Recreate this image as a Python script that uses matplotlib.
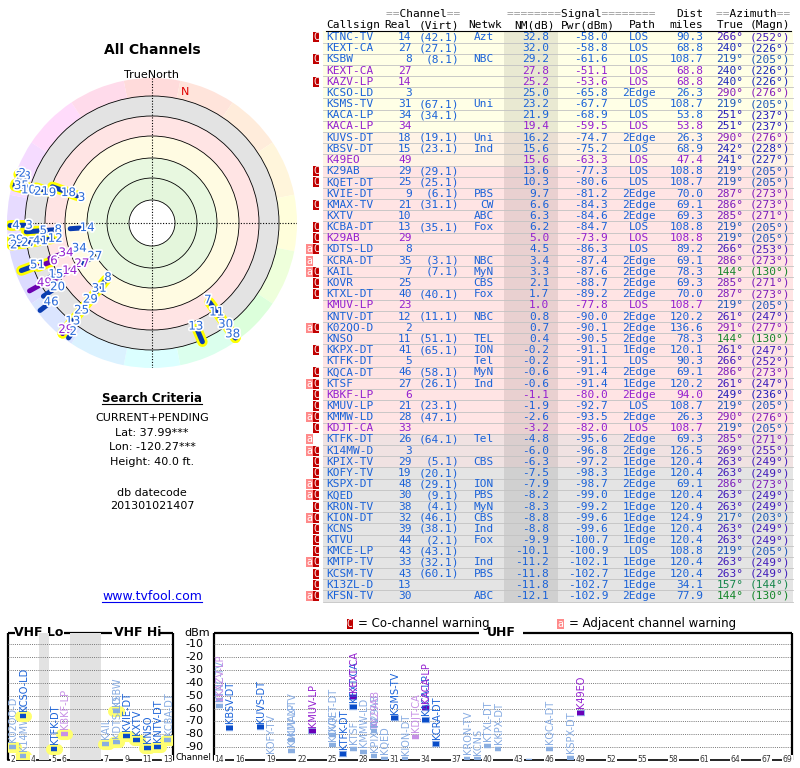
import numpy as np
import matplotlib
matplotlib.use('Agg')
import matplotlib.pyplot as plt
from matplotlib.patches import Rectangle, Wedge, Circle
import matplotlib.patheffects as pe
import matplotlib.transforms as mtransforms
import colorsys

# ---------------- data ----------------
callsign = ["KTNC-TV","KEXT-CA","KSBW","KEXT-CA","KAZV-LP","KCSO-LD","KSMS-TV","KACA-LP","KACA-LP","KUVS-DT",
            "KBSV-DT","K49EO","K29AB","KQET-DT","KVIE-DT","KMAX-TV","KXTV","KCBA-DT","K29AB","KDTS-LD",
            "KCRA-DT","KAIL","KOVR","KTXL-DT","KMUV-LP","KNTV-DT","K02QO-D","KNSO","KKPX-DT","KTFK-DT",
            "KQCA-DT","KTSF","KBKF-LP","KMUV-LP","KMMW-LD","KDJT-CA","KTFK-DT","K14MW-D","KPIX-TV","KOFY-TV",
            "KSPX-DT","KQED","KRON-TV","KION-DT","KCNS","KTVU","KMCE-LP","KMTP-TV","KCSM-TV","K13ZL-D","KFSN-TV"]
real_ch = [14,27,8,27,14,3,31,34,34,18,15,49,29,25,9,21,10,13,29,8,35,7,25,40,23,12,2,11,41,5,
           46,27,6,21,28,33,26,3,29,19,48,30,38,32,39,44,43,33,43,13,30]
virt_ch = ["42.1","27.1","8.1","","","","67.1","34.1","","19.1","23.1","","29.1","25.1","6.1","31.1","",
           "35.1","","","3.1","7.1","","40.1","","11.1","","51.1","65.1","","58.1","26.1","","23.1","47.1",
           "","64.1","","5.1","20.1","29.1","9.1","4.1","46.1","38.1","2.1","43.1","32.1","60.1","",""]
network = ["Azt","","NBC","","","","Uni","","","Uni","Ind","","","","PBS","CW","ABC","Fox","","","NBC",
           "MyN","CBS","Fox","","NBC","","TEL","ION","Tel","MyN","Ind","","","","","Tel","","CBS","","ION",
           "PBS","MyN","CBS","Ind","Fox","","Ind","PBS","","ABC"]
nm_db = [32.8,32.0,29.2,27.8,25.2,25.0,23.2,21.9,19.4,16.2,15.6,15.6,13.6,10.3,9.7,6.6,6.3,6.2,5.0,4.5,
         3.4,3.3,2.1,1.7,1.0,0.8,0.7,0.4,-0.2,-0.2,-0.6,-0.6,-1.1,-1.9,-2.6,-3.2,-4.8,-6.0,-6.3,-7.5,
         -7.9,-8.2,-8.3,-8.8,-8.8,-9.9,-10.1,-11.2,-11.8,-11.8,-12.1]
pwr_dbm = [-58.0,-58.8,-61.6,-51.1,-53.6,-65.8,-67.7,-68.9,-59.5,-74.7,-75.2,-63.3,-77.3,-80.6,-81.2,
           -84.3,-84.6,-84.7,-73.9,-86.3,-87.4,-87.6,-88.7,-89.2,-77.8,-90.0,-90.1,-90.5,-91.1,-91.1,
           -91.4,-91.4,-80.0,-92.7,-93.5,-82.0,-95.6,-96.8,-97.2,-98.3,-98.7,-99.0,-99.2,-99.6,-99.6,
           -100.7,-100.9,-102.1,-102.7,-102.7,-102.9]
path = ["LOS","LOS","LOS","LOS","LOS","2Edge","LOS","LOS","LOS","2Edge","LOS","LOS","LOS","LOS","2Edge",
        "2Edge","2Edge","LOS","LOS","LOS","2Edge","2Edge","2Edge","2Edge","LOS","2Edge","2Edge","2Edge",
        "1Edge","LOS","2Edge","1Edge","2Edge","LOS","2Edge","LOS","2Edge","2Edge","1Edge","1Edge","2Edge",
        "1Edge","1Edge","1Edge","1Edge","1Edge","LOS","1Edge","1Edge","1Edge","2Edge"]
dist_mi = [90.3,68.8,108.7,68.8,68.8,26.3,108.7,53.8,53.8,26.3,68.9,47.4,108.8,108.7,70.0,69.1,69.3,
           108.8,108.8,89.2,69.1,78.3,69.3,70.0,108.7,120.2,136.6,78.3,120.1,90.3,69.1,120.2,94.0,108.7,
           26.3,108.7,69.3,126.5,120.4,120.4,69.1,120.4,120.4,124.9,120.4,120.4,108.8,120.4,120.4,34.1,77.9]
az_true = [266,240,219,240,240,290,219,251,251,290,242,241,219,219,287,286,285,219,219,266,286,144,285,
           287,219,261,291,144,261,266,286,261,249,219,290,219,285,269,263,263,286,263,263,217,263,263,
           219,263,263,157,144]
az_magn = [252,226,205,226,226,276,205,237,237,276,228,227,205,205,273,273,271,205,205,253,273,130,271,
           273,205,247,277,130,247,252,273,247,236,205,276,205,271,255,249,249,273,249,249,203,249,249,
           205,249,249,144,130]
pending = [0,0,0,1,1,0,0,0,1,0,0,1,0,0,0,0,0,0,1,0,0,0,0,0,1,0,0,0,0,0,0,0,1,0,0,1,0,0,0,0,
           0,0,0,0,0,0,0,0,0,0,0]
warn = ["C","","C","","C","","","","","","","","C","C","","C","","C","C","aC","a","aC","C","C","","",
        "aC","","C","","C","aC","C","C","aC","C","a","aC","C","C","aC","aC","C","aC","C","C","C","aC",
        "C","C","aC"]

# radar plot marks (label, true azimuth, radius in plot units)
radar_lab = ['28','35','2','10','21','9','18','3','4','3','5','8','14','29','2','27','41','12',
             '34','34','6','51','27','27','14','15','49','20','46','8','31','29','25','13','29','2',
             '7','11','30','38','13']
radar_az = [290,286,291,285,286,287,290,290,269,269,266,266,266,263,261,261,261,261,
            251,251,249,250,240,240,240,242,241,236,232,219,219,219,219,219,219,216,
            144,144,144,144,157]
radar_r = [137,136,139,128,115,104,89,75,136,123,109,94,65,137,140,125,113,98,
           77,91,105,122,66,81,95,109,123,114,128,70,84,98,112,126,137,134,
           95,110,125,137,112]
radar_pend = [0,0,0,0,0,0,0,0,0,0,0,0,0,0,0,0,0,0,
              0,1,1,0,0,1,1,0,1,0,0,0,0,0,0,0,1,0,
              0,0,0,0,0]
radar_halo = [1,1,1,1,1,1,1,1,1,1,1,0,0,1,1,1,1,1,
              0,0,1,1,0,0,0,0,0,0,0,1,1,1,1,1,1,0,
              1,1,1,1,1]
ring_levels = [23, 45, 65, 87, 107, 127]
dbm_ticks = [-10,-20,-30,-40,-50,-60,-70,-80,-90]
vhf_tick_ch = [2,4,5,6,7,9,11,13]
uhf_tick_ch = [14,16,19,22,25,28,31,34,37,40,43,46,49,52,55,58,61,64,67,69]

# ---------------- styles ----------------
BLUE = '#1a62d8'
PURP = '#9420d0'
LBLUE = '#86abe2'
LPURP = '#c68ee6'
MONO = 'DejaVu Sans Mono'

def az_hue(b):
    return float(np.interp(b, [0,45,90,135,180,225,270,315,360],
                           [0,0.08,0.16,0.33,0.5,0.62,0.72,0.85,1.0]))

def az_text_color(b):
    h = az_hue(b)
    v = float(np.interp(h, [0,0.3,0.45,0.6,1.0],[0.75,0.52,0.52,0.72,0.75]))
    return colorsys.hsv_to_rgb(h, 0.85, v)

def az_ring_color(b):
    return colorsys.hsv_to_rgb(az_hue(b), 0.14, 1.0)

def band_color(nm):
    if nm >= 18: return '#ffffe6'
    if nm >= 15: return '#fff3e6'
    if nm > -4: return '#ffe4e4'
    if nm > -7: return '#f0e2e2'
    return '#e4e4e4'

fig = plt.figure(figsize=(8, 7.68), dpi=100)
ax0 = fig.add_axes([0, 0, 1, 1])
ax0.set_xlim(0, 800); ax0.set_ylim(768, 0); ax0.axis('off')

# ---------------- table ----------------
n = len(callsign)
y0, rh = 37.0, 11.18
xl, xr = 323, 793
for i in range(n):
    y = y0 + i * rh
    ax0.add_patch(Rectangle((xl, y - rh / 2), xr - xl, rh, fc=band_color(nm_db[i]), ec='none', zorder=0))
    ax0.add_patch(Rectangle((504.3, y - rh / 2), 53.4, rh, fc='black', alpha=0.085, ec='none', zorder=0.5))
    ax0.plot([xl, xr], [y + rh / 2] * 2, color='#c2c2c2', lw=0.6, zorder=1)
    c = PURP if pending[i] else BLUE
    kw = dict(fontfamily=MONO, fontsize=8, color=c, va='center', zorder=3)
    ax0.text(326.5, y, callsign[i], ha='left', **kw)
    ax0.text(411.5, y, str(real_ch[i]), ha='right', **kw)
    if virt_ch[i]:
        ax0.text(459.3, y, '(' + virt_ch[i] + ')', ha='right', **kw)
    if network[i]:
        ax0.text(494, y, network[i], ha='right', **kw)
    ax0.text(549.3, y, '%.1f' % nm_db[i], ha='right', **kw)
    ax0.text(608.3, y, '%.1f' % pwr_dbm[i], ha='right', **kw)
    ax0.text(639.3, y, path[i], ha='center', **kw)
    ax0.text(703.3, y, '%.1f' % dist_mi[i], ha='right', **kw)
    ac = az_text_color(az_true[i])
    ax0.text(743.3, y, '%d°' % az_true[i], ha='right', fontfamily=MONO, fontsize=8, color=ac, va='center', zorder=3)
    ax0.text(790.5, y, '(%d°)' % az_magn[i], ha='right', fontfamily=MONO, fontsize=8, color=ac, va='center', zorder=3)
    if 'C' in warn[i]:
        ax0.add_patch(Rectangle((312.7, y - 5), 6.6, 10, fc='#c00000', ec='none', zorder=2))
        ax0.text(316.0, y, 'C', ha='center', va='center', color='white', fontfamily=MONO, fontsize=7, zorder=3)
    if 'a' in warn[i]:
        ax0.add_patch(Rectangle((306.0, y - 5), 6.7, 10, fc='#ff8a8a', ec='none', zorder=2))
        ax0.text(309.35, y, 'a', ha='center', va='center', color='white', fontfamily=MONO, fontsize=7, zorder=3)

# header
hk = dict(fontfamily=MONO, fontsize=8, va='center')
def two_tone(x, y, s, ha):
    gray = ''.join(ch if ch == '=' else ' ' for ch in s)
    blk = ''.join(' ' if ch == '=' else ch for ch in s)
    ax0.text(x, y, gray, ha=ha, color='#9a9a9a', **hk)
    ax0.text(x, y, blk, ha=ha, color='black', **hk)
two_tone(423, 14.3, '==Channel==', 'center')
two_tone(581.5, 14.3, '========Signal========', 'center')
two_tone(703.3, 14.3, 'Dist', 'right')
two_tone(753.5, 14.3, '==Azimuth==', 'center')
ax0.text(326.5, 25.5, 'Callsign', ha='left', color='black', **hk)
ax0.text(411.5, 25.5, 'Real', ha='right', color='black', **hk)
ax0.text(459.3, 25.5, '(Virt)', ha='right', color='black', **hk)
ax0.text(485, 25.5, 'Netwk', ha='center', color='black', **hk)
ax0.text(555, 25.5, 'NM(dB)', ha='right', color='black', **hk)
ax0.text(615, 25.5, 'Pwr(dBm)', ha='right', color='black', **hk)
ax0.text(642, 25.5, 'Path', ha='center', color='black', **hk)
ax0.text(703.3, 25.5, 'miles', ha='right', color='black', **hk)
ax0.text(743.3, 25.5, 'True', ha='right', color='black', **hk)
ax0.text(790.5, 25.5, '(Magn)', ha='right', color='black', **hk)
ax0.plot([326, 791], [31.3, 31.3], color='black', lw=0.8)

# ---------------- left texts ----------------
ax0.text(152, 50, 'All Channels', ha='center', va='center', fontsize=10, fontweight='bold')
ax0.text(151, 75, 'TrueNorth', ha='center', va='center', fontsize=8)
t_sc = ax0.text(152, 399, 'Search Criteria', ha='center', va='center', fontsize=8.5, fontweight='bold')
info = ['CURRENT+PENDING', 'Lat: 37.99***', 'Lon: -120.27***', 'Height: 40.0 ft.']
for k, s in enumerate(info):
    ax0.text(152, 418 + k * 14.7, s, ha='center', va='center', fontsize=8)
ax0.text(152, 493, 'db datecode', ha='center', va='center', fontsize=8)
ax0.text(152, 506, '201301021407', ha='center', va='center', fontsize=8)
t_www = ax0.text(152, 597, 'www.tvfool.com', ha='center', va='center', fontsize=9, color='#0000ee')

# ---------------- radar ----------------
axr = fig.add_axes([7 / 800, 1 - 368 / 768, 290 / 800, 290 / 768])
axr.set_xlim(-145, 145); axr.set_ylim(-145, 145); axr.set_aspect('equal'); axr.axis('off')
for k in range(16):
    b = k * 22.5
    axr.add_patch(Wedge((0, 0), 145, 90 - b - 11.25, 90 - b + 11.25, width=18,
                        fc=az_ring_color(b), ec='none', zorder=0))
band_fill = ['#e4f6dc', '#e8f8e0', '#fffbe2', '#ffe4e4', '#e3e3e3']
for k in range(len(ring_levels) - 1, 0, -1):
    axr.add_patch(Circle((0, 0), ring_levels[k], fc=band_fill[k - 1], ec='none', zorder=0.5))
axr.add_patch(Circle((0, 0), ring_levels[0], fc='white', ec='none', zorder=0.6))
for rr_ in ring_levels:
    axr.add_patch(Circle((0, 0), rr_, fc='none', ec='black', lw=0.6, zorder=1))
axr.plot([0, 0], [-145, 145], color='black', lw=0.8, ls=(0, (1, 1.5)), zorder=1.2)
axr.plot([-145, 145], [0, 0], color='black', lw=0.8, ls=(0, (1, 1.5)), zorder=1.2)
axr.text(135 * np.sin(np.radians(14)), 135 * np.cos(np.radians(14)), 'N', color='#e00000',
         fontsize=8, ha='center', va='center', zorder=2)
rad_b = np.radians(radar_az)
rr = np.array(radar_r, float)
r1 = np.minimum(rr + 3, 142)
r2 = np.minimum(rr + 17, 142)
for i in range(len(radar_lab)):
    xs = [r1[i] * np.sin(rad_b[i]), r2[i] * np.sin(rad_b[i])]
    ys = [r1[i] * np.cos(rad_b[i]), r2[i] * np.cos(rad_b[i])]
    if radar_halo[i]:
        axr.plot(xs, ys, color='#ffff00', lw=7.5, solid_capstyle='round', zorder=2)
for i in range(len(radar_lab)):
    xs = [r1[i] * np.sin(rad_b[i]), r2[i] * np.sin(rad_b[i])]
    ys = [r1[i] * np.cos(rad_b[i]), r2[i] * np.cos(rad_b[i])]
    axr.plot(xs, ys, color='#6a00b0' if radar_pend[i] else '#0a3cb0', lw=3.6,
             solid_capstyle='round', zorder=3)
for i in range(len(radar_lab)):
    axr.text(rr[i] * np.sin(rad_b[i]), rr[i] * np.cos(rad_b[i]), radar_lab[i],
             color=PURP if radar_pend[i] else '#2a6ad8', fontsize=8.5, ha='center', va='center',
             zorder=4, path_effects=[pe.withStroke(linewidth=2.5, foreground='white')])

# ---------------- spectrum panels ----------------
def vpos(ch):
    return ch - 2 if ch <= 4 else (ch - 1 if ch <= 6 else ch + 2)

axv = fig.add_axes([8 / 800, 1 - 760 / 768, 165 / 800, 127.3 / 768])
axu = fig.add_axes([214 / 800, 1 - 760 / 768, 578.3 / 800, 127.3 / 768])
axv.set_xlim(-0.45, 15.5); axu.set_xlim(13.5, 69.5)
for ax in (axv, axu):
    ax.set_ylim(-100, -1)
    ax.axis('off')
    ax.patch.set_alpha(0)
    for d in dbm_ticks:
        ax.axhline(d, color='#777777', lw=0.7, ls=(0, (1, 1.2)), zorder=0.5)
axv.axvspan(2.5, 3.5, color='#e2e2e2', zorder=0.2, lw=0)
axv.axvspan(5.5, 8.5, color='#e2e2e2', zorder=0.2, lw=0)

def draw_station(i):
    ch = real_ch[i]
    vhf = ch <= 13
    ax = axv if vhf else axu
    x = vpos(ch) if vhf else ch
    light = 'C' in warn[i]
    if pending[i]:
        col = LPURP if light else PURP
        bar = '#c690e6' if light else '#6a00b8'
    else:
        col = LBLUE if light else BLUE
        bar = '#8aaee0' if light else '#0a4cc8'
    p = pwr_dbm[i]
    z = 2 if light else 3
    if vhf:
        ax.plot([x - 0.3, x + 0.3], [p, p], color='#ffff70', lw=8, solid_capstyle='round', zorder=z - 0.5)
    elif not light:
        ax.plot([x - 0.38, x + 0.38], [p, p], color='#9ab8ec', lw=4.6, solid_capstyle='butt', zorder=z - 0.2)
    ax.plot([x - 0.33, x + 0.33], [p, p], color=bar, lw=3.2, solid_capstyle='butt', zorder=z)
    ax.annotate(callsign[i], (x, p), xytext=(0.5, 3.5), textcoords='offset points', rotation=90,
                ha='center', va='bottom', fontsize=7, color=col, zorder=z + 0.1,
                annotation_clip=True)

order = sorted(range(n), key=lambda i: 0 if 'C' in warn[i] else 1)
for i in order:
    draw_station(i)

# channel tick labels on bottom edges
for ch in vhf_tick_ch:
    axv.text(vpos(ch), -100, str(ch), ha='center', va='center', fontsize=5.5, color='#333333',
             bbox=dict(fc='white', ec='none', pad=0.4), zorder=6, clip_on=False)
for ch in uhf_tick_ch:
    axu.text(ch, -100, str(ch), ha='center', va='center', fontsize=5.5, color='#333333',
             bbox=dict(fc='white', ec='none', pad=0.4), zorder=6, clip_on=False)

# dBm labels between panels
tr = mtransforms.blended_transform_factory(ax0.transData, axv.transData)
for d in dbm_ticks:
    fig.text(185, d, str(d), transform=tr, ha='left', va='center', fontsize=8)
ax0.text(184, 633, 'dBm', ha='left', va='center', fontsize=8)
ax0.text(211.5, 757.5, 'Channel', ha='right', va='center', fontsize=6.3,
         bbox=dict(fc='white', ec='none', pad=0.2), zorder=7)

# panel frames
fk = dict(color='black', lw=1.6, solid_capstyle='butt', zorder=5)
ax0.plot([8, 8], [633, 759.5], **fk); ax0.plot([173, 173], [633, 759.5], **fk)
ax0.plot([8, 15], [633, 633], **fk); ax0.plot([64, 112], [633, 633], **fk); ax0.plot([160, 173], [633, 633], **fk)
ax0.plot([8, 173], [759.5, 759.5], color='black', lw=1.2, zorder=5)
ax0.plot([214, 214], [633, 759.5], **fk); ax0.plot([792, 792], [633, 759.5], **fk)
ax0.plot([214, 479], [633, 633], **fk); ax0.plot([523, 792], [633, 633], **fk)
ax0.plot([214, 792], [759.5, 759.5], color='black', lw=1.2, zorder=5)
ax0.text(39, 633, 'VHF Lo', ha='center', va='center', fontsize=9, fontweight='bold')
ax0.text(137.5, 633, 'VHF Hi', ha='center', va='center', fontsize=9, fontweight='bold')
ax0.text(501, 633, 'UHF', ha='center', va='center', fontsize=9, fontweight='bold')

# legend
ax0.add_patch(Rectangle((346.7, 619), 6.2, 10, fc='#c00000', ec='none'))
ax0.text(349.8, 624, 'C', ha='center', va='center', color='white', fontfamily=MONO, fontsize=7)
ax0.text(358, 624, '= Co-channel warning', ha='left', va='center', fontsize=8.5)
ax0.add_patch(Rectangle((557.3, 619), 6.5, 10, fc='#ff8a8a', ec='none'))
ax0.text(560.5, 624, 'a', ha='center', va='center', color='white', fontfamily=MONO, fontsize=7)
ax0.text(569, 624, '= Adjacent channel warning', ha='left', va='center', fontsize=8.5)

# underlines
fig.canvas.draw()
ren = fig.canvas.get_renderer()
inv = ax0.transData.inverted()
for t, col, dy in ((t_sc, 'black', 1.5), (t_www, '#0000ee', 1.5)):
    bb = t.get_window_extent(ren)
    (xa, ya), (xb, yb) = inv.transform([[bb.x0, bb.y0], [bb.x1, bb.y1]])
    ax0.plot([xa, xb], [ya - dy, ya - dy], color=col, lw=0.8)

fig.savefig('out.png', dpi=100)
